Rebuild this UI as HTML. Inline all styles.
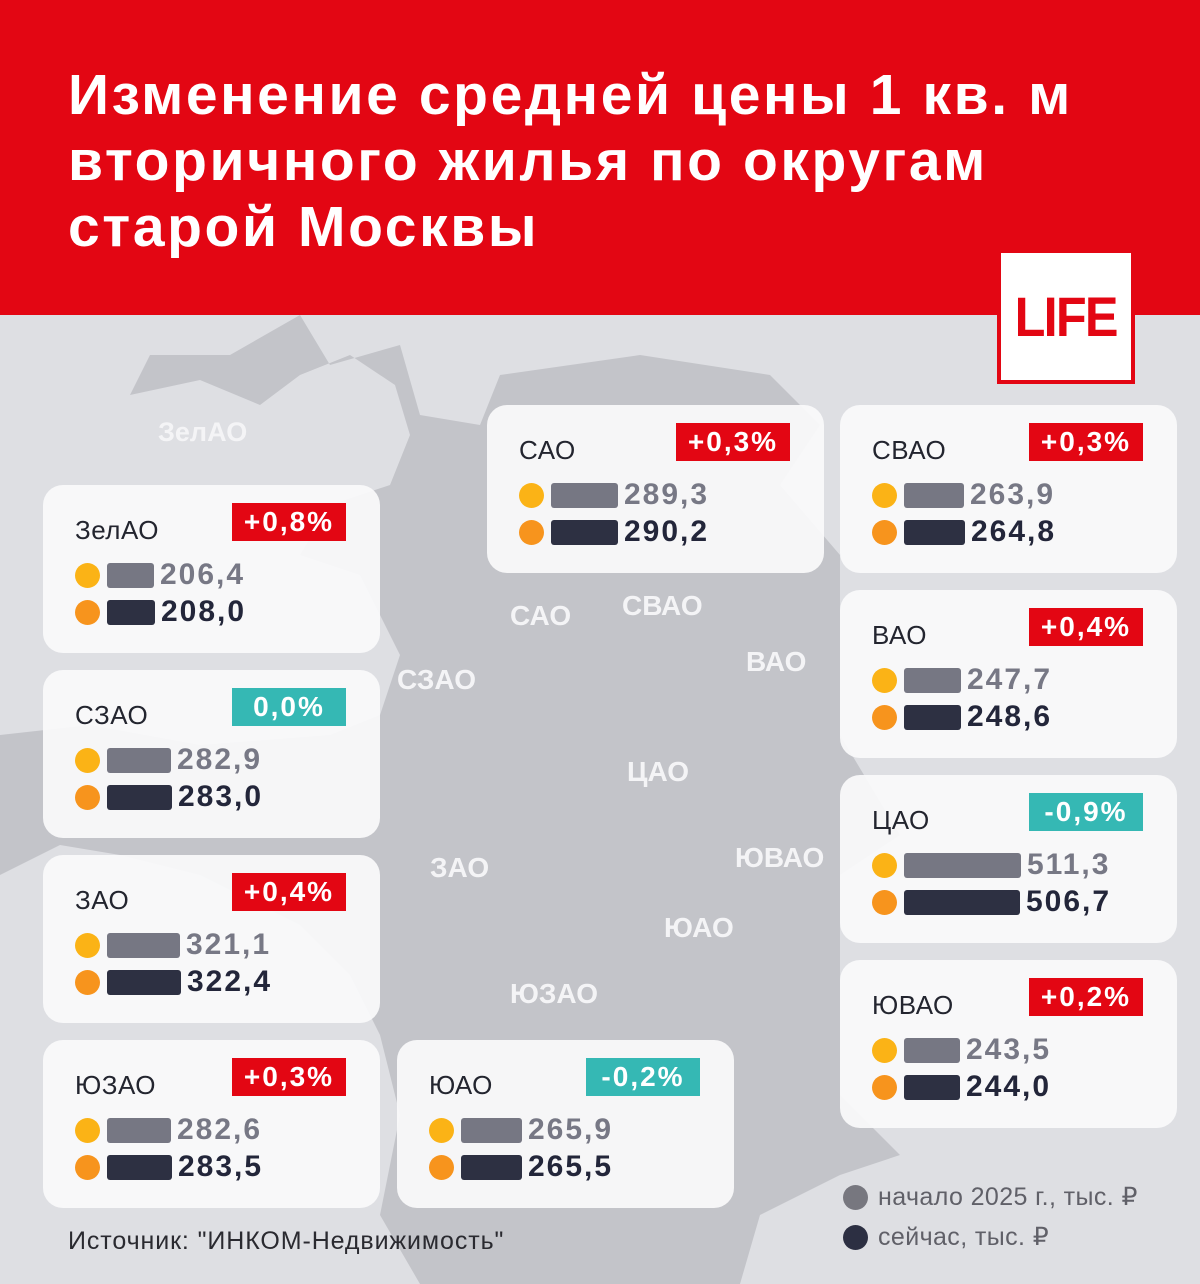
<!DOCTYPE html>
<html><head><meta charset="utf-8"><style>
*{margin:0;padding:0;box-sizing:border-box}
body{width:1200px;height:1284px;overflow:hidden;position:relative;background:#dedfe3;font-family:"Liberation Sans",sans-serif}
.hdr{position:absolute;left:0;top:0;width:1200px;height:315px;background:#e30613}
.title{position:absolute;left:68px;top:62px;color:#fff;font-weight:bold;font-size:57px;line-height:66px;letter-spacing:2.6px}
.logo{position:absolute;left:997px;top:249px;width:138px;height:135px;background:#e30613;padding:4px}
.logo div{width:100%;height:100%;background:#fff;color:#e30613;font-weight:bold;font-size:56px;text-align:center;line-height:128px;letter-spacing:-2px}
.logo span{display:inline-block;transform:scaleX(0.9)}
.card{position:absolute;width:337px;height:168px;background:rgba(250,250,251,0.93);border-radius:20px}
.card .n{position:absolute;left:32px;top:30px;font-size:26px;color:#23252f;letter-spacing:0.5px}
.card .b{position:absolute;left:189px;top:18px;width:114px;height:38px;background:#e30613;color:#fff;font-weight:bold;font-size:28px;text-align:center;line-height:38px;letter-spacing:2px}
.card .b.t{background:#35b8b4}
.r{position:absolute;left:32px;height:26px}
.r i{position:absolute;left:0;top:1px;width:25px;height:25px;border-radius:50%}
.r s{position:absolute;left:32px;top:1px;height:25px;border-radius:3px}
.r span{position:absolute;top:-4px;font-size:30px;font-weight:bold;letter-spacing:2px;white-space:nowrap}
.r1{top:77px}.r1 i{background:#fbb316}.r1 s{background:#767783}.r1 span{color:#777885}
.r2{top:114px}.r2 i{background:#f7941d}.r2 s{background:#2d3042}.r2 span{color:#23263a}
.ml{position:absolute;color:#f4f4f6;font-weight:bold;font-size:28px}
.lg{position:absolute;left:843px;font-size:25px;color:#606068;letter-spacing:0.4px}
.lg i{display:inline-block;width:25px;height:25px;border-radius:50%;vertical-align:-5px;margin-right:10px}
</style></head><body>
<svg style="position:absolute;left:0;top:315px" width="1200" height="969">
<path fill="#c3c4c9" d="M130,80 L200,65 L260,90 L300,60 L350,40 L395,70 L410,120 L390,170 L330,190 L300,240 L360,260 L380,300 L400,340 L380,400 L330,420 L200,430 L90,410 L0,420 L0,560 L60,530 L120,540 L200,560 L300,610 L350,660 L380,720 L400,800 L380,900 L420,969 L740,969 L760,900 L840,860 L900,840 L840,780 L840,700 L840,560 L900,520 L840,420 L840,240 L780,170 L820,110 L770,60 L640,40 L500,60 L480,110 L420,100 L400,30 L330,50 L300,0 L230,40 L150,40 Z"/>
</svg>
<div class="ml" style="left:158px;top:417px;font-size:27px">ЗелАО</div>
<div class="ml" style="left:510px;top:600px">САО</div>
<div class="ml" style="left:622px;top:590px">СВАО</div>
<div class="ml" style="left:746px;top:646px">ВАО</div>
<div class="ml" style="left:397px;top:664px">СЗАО</div>
<div class="ml" style="left:627px;top:756px">ЦАО</div>
<div class="ml" style="left:735px;top:842px">ЮВАО</div>
<div class="ml" style="left:430px;top:852px">ЗАО</div>
<div class="ml" style="left:664px;top:912px">ЮАО</div>
<div class="ml" style="left:510px;top:978px">ЮЗАО</div>
<div class="hdr"></div>
<div class="title">Изменение средней цены 1 кв. м<br>вторичного жилья по округам<br>старой Москвы</div>
<div class="logo"><div><span>LIFE</span></div></div>

<div class="card" style="left:43px;top:485px"><div class="n">ЗелАО</div><div class="b">+0,8%</div>
<div class="r r1"><i></i><s style="width:47px"></s><span style="left:85px">206,4</span></div>
<div class="r r2"><i></i><s style="width:48px"></s><span style="left:86px">208,0</span></div></div>

<div class="card" style="left:43px;top:670px"><div class="n">СЗАО</div><div class="b t">0,0%</div>
<div class="r r1"><i></i><s style="width:64px"></s><span style="left:102px">282,9</span></div>
<div class="r r2"><i></i><s style="width:65px"></s><span style="left:103px">283,0</span></div></div>

<div class="card" style="left:43px;top:855px"><div class="n">ЗАО</div><div class="b">+0,4%</div>
<div class="r r1"><i></i><s style="width:73px"></s><span style="left:111px">321,1</span></div>
<div class="r r2"><i></i><s style="width:74px"></s><span style="left:112px">322,4</span></div></div>

<div class="card" style="left:43px;top:1040px"><div class="n">ЮЗАО</div><div class="b">+0,3%</div>
<div class="r r1"><i></i><s style="width:64px"></s><span style="left:102px">282,6</span></div>
<div class="r r2"><i></i><s style="width:65px"></s><span style="left:103px">283,5</span></div></div>

<div class="card" style="left:397px;top:1040px"><div class="n">ЮАО</div><div class="b t">-0,2%</div>
<div class="r r1"><i></i><s style="width:61px"></s><span style="left:99px">265,9</span></div>
<div class="r r2"><i></i><s style="width:61px"></s><span style="left:99px">265,5</span></div></div>

<div class="card" style="left:487px;top:405px"><div class="n">САО</div><div class="b">+0,3%</div>
<div class="r r1"><i></i><s style="width:67px"></s><span style="left:105px">289,3</span></div>
<div class="r r2"><i></i><s style="width:67px"></s><span style="left:105px">290,2</span></div></div>

<div class="card" style="left:840px;top:405px"><div class="n">СВАО</div><div class="b">+0,3%</div>
<div class="r r1"><i></i><s style="width:60px"></s><span style="left:98px">263,9</span></div>
<div class="r r2"><i></i><s style="width:61px"></s><span style="left:99px">264,8</span></div></div>

<div class="card" style="left:840px;top:590px"><div class="n">ВАО</div><div class="b">+0,4%</div>
<div class="r r1"><i></i><s style="width:57px"></s><span style="left:95px">247,7</span></div>
<div class="r r2"><i></i><s style="width:57px"></s><span style="left:95px">248,6</span></div></div>

<div class="card" style="left:840px;top:775px"><div class="n">ЦАО</div><div class="b t">-0,9%</div>
<div class="r r1"><i></i><s style="width:117px"></s><span style="left:155px">511,3</span></div>
<div class="r r2"><i></i><s style="width:116px"></s><span style="left:154px">506,7</span></div></div>

<div class="card" style="left:840px;top:960px"><div class="n">ЮВАО</div><div class="b">+0,2%</div>
<div class="r r1"><i></i><s style="width:56px"></s><span style="left:94px">243,5</span></div>
<div class="r r2"><i></i><s style="width:56px"></s><span style="left:94px">244,0</span></div></div>

<div class="lg" style="top:1182px"><i style="background:#77777f"></i>начало 2025 г., тыс. ₽</div>
<div class="lg" style="top:1222px"><i style="background:#2c2f42"></i>сейчас, тыс. ₽</div>
<div style="position:absolute;left:68px;top:1227px;font-size:25px;color:#2a2a30;letter-spacing:0.9px">Источник: "ИНКОМ-Недвижимость"</div>
</body></html>
